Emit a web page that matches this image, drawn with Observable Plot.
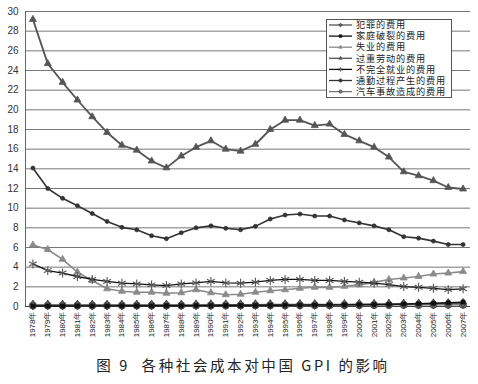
<!DOCTYPE html>
<html>
<head>
<meta charset="utf-8">
<script src="https://cdn.jsdelivr.net/npm/d3@7"></script>
<script src="https://cdn.jsdelivr.net/npm/@observablehq/plot@0.6"></script>
<style>
  html, body { margin: 0; padding: 0; background: #fff; }
  #chart { width: 478px; }
  #caption { width: 478px; height: 39px; text-align: center; font-family: "Noto Sans CJK SC", sans-serif; font-size: 14.5px; letter-spacing: 2.6px; color: #222; line-height: 39px; padding-left: 8px; box-sizing: border-box; }
</style>
</head>
<body>
<div id="chart"></div>
<div id="caption">图 9&nbsp; 各种社会成本对中国 GPI 的影响</div>
<script>
const years = [1978,1979,1980,1981,1982,1983,1984,1985,1986,1987,1988,1989,1990,1991,1992,1993,1994,1995,1996,1997,1998,1999,2000,2001,2002,2003,2004,2005,2006,2007];
const seriesNames = ["犯罪的费用","家庭破裂的费用","失业的费用","过重劳动的费用","不完全就业的费用","通勤过程产生的费用","汽车事故造成的费用"];
const crime      = [0.15,0.15,0.15,0.15,0.15,0.15,0.15,0.15,0.16,0.16,0.17,0.17,0.18,0.18,0.19,0.19,0.2,0.2,0.21,0.21,0.22,0.22,0.23,0.24,0.25,0.26,0.27,0.28,0.3,0.32];
const family     = [0.05,0.05,0.05,0.06,0.06,0.06,0.07,0.07,0.07,0.08,0.08,0.09,0.09,0.1,0.1,0.11,0.12,0.13,0.14,0.15,0.16,0.17,0.18,0.2,0.22,0.25,0.28,0.33,0.38,0.45];
const unemploy   = [6.26,5.8,4.8,3.5,2.65,1.8,1.55,1.45,1.45,1.35,1.4,1.7,1.4,1.2,1.25,1.45,1.6,1.7,1.85,1.95,1.95,2.05,2.2,2.45,2.75,2.9,3.05,3.3,3.4,3.55];
const overwork   = [29.2,24.7,22.8,21.0,19.3,17.7,16.4,15.9,14.8,14.1,15.3,16.2,16.85,16.0,15.8,16.5,18.0,18.95,18.95,18.4,18.55,17.5,16.85,16.2,15.2,13.7,13.3,12.8,12.1,11.95];
const underemp   = [4.33,3.65,3.4,3.05,2.75,2.55,2.37,2.3,2.2,2.13,2.3,2.4,2.55,2.4,2.37,2.47,2.65,2.75,2.75,2.65,2.65,2.55,2.47,2.37,2.23,2.03,1.95,1.85,1.72,1.8];
const commute    = [14.08,12.0,11.0,10.25,9.45,8.65,8.05,7.8,7.2,6.9,7.5,8.0,8.2,7.95,7.8,8.15,8.9,9.3,9.4,9.2,9.2,8.8,8.5,8.2,7.8,7.1,6.95,6.65,6.3,6.3];
const accident   = [0.1,0.1,0.1,0.1,0.1,0.1,0.1,0.1,0.1,0.1,0.1,0.1,0.11,0.11,0.11,0.12,0.12,0.12,0.13,0.13,0.13,0.14,0.14,0.15,0.15,0.16,0.16,0.17,0.17,0.18];
const yTicks = [0,2,4,6,8,10,12,14,16,18,20,22,24,26,28,30];

const values = [crime, family, unemploy, overwork, underemp, commute, accident];
const styles = [
  {stroke:"#555", symbol:"diamond", r:3, fill:"#666", dotStroke:"#333", sw:1.4},
  {stroke:"#111", symbol:"square", r:2.2, fill:"#111", dotStroke:"#111", sw:1.4},
  {stroke:"#8a8a8a", symbol:"triangle", r:2.6, fill:"#8a8a8a", dotStroke:"#8a8a8a", sw:1.6},
  {stroke:"#555", symbol:"triangle", r:2.6, fill:"#555", dotStroke:"#555", sw:1.8},
  {stroke:"#111", symbol:"asterisk", r:4.2, fill:"none", dotStroke:"#555", sw:1.3},
  {stroke:"#333", symbol:"circle", r:2, fill:"#333", dotStroke:"#333", sw:1.6},
  {stroke:"#777", symbol:"circle", r:3.6, fill:"#7a7a7a", dotStroke:"#444", sw:1.3}
];

const rows = [];
seriesNames.forEach((name, i) => years.forEach((yr, j) => rows.push({name, year: yr, value: values[i][j], idx: i})));

const marks = [
  Plot.gridY(yTicks, {stroke:"#777", strokeOpacity:1, strokeWidth:1}),
  Plot.ruleX([1977.5], {stroke:"#666", strokeWidth:1}),
  Plot.ruleY([0], {stroke:"#444", strokeWidth:1.2}),
  Plot.axisY(yTicks, {tickSize:0, tickPadding:7, fontSize:10, fill:"#333", label:null}),
  Plot.axisX(years, {tickSize:0, tickPadding:5, tickRotate:-90, fontSize:8, fill:"#222", label:null, tickFormat: d => d + "年"})
];
const drawOrder = [6, 0, 1, 2, 4, 5, 3];
drawOrder.forEach(i => {
  const s = styles[i];
  const data = rows.filter(d => d.idx === i);
  marks.push(Plot.line(data, {x:"year", y:"value", stroke:s.stroke, strokeWidth:s.sw}));
  marks.push(Plot.dot(data, {x:"year", y:"value", symbol:()=>s.symbol, r:s.r, fill:s.fill, stroke:s.dotStroke, strokeWidth: s.symbol==="asterisk"?1.1:0.8}));
});

const plot = Plot.plot({
  width: 478,
  height: 345,
  marginLeft: 25,
  marginRight: 8,
  marginTop: 11,
  marginBottom: 39,
  style: {fontFamily: "Liberation Sans, Arial, sans-serif", background:"#fff"},
  x: {type:"linear", domain:[1977.5, 2007.5], axis:null},
  y: {domain:[0,30], axis:null},
  symbol: {type:"identity"},
  marks
});
document.getElementById("chart").appendChild(plot);

// legend
const svg = d3.select(plot);
const lg = svg.append("g").attr("text-anchor","start");
lg.append("rect").attr("x",326.5).attr("y",19.5).attr("width",125).attr("height",78).attr("fill","#fff").attr("stroke","#555");
const symMap = {diamond:d3.symbolDiamond2, square:d3.symbolSquare2, triangle:d3.symbolTriangle2, asterisk:d3.symbolAsterisk, circle:d3.symbolCircle};
seriesNames.forEach((name, k) => {
  const s = styles[k];
  const y = 25 + k * 11.1;
  lg.append("line").attr("x1",329).attr("x2",352).attr("y1",y).attr("y2",y).attr("stroke",s.stroke).attr("stroke-width",1.3);
  const sym = d3.symbol(symMap[s.symbol], s.symbol === "asterisk" ? 14 : 8)();
  lg.append("path").attr("d", sym).attr("transform",`translate(340.5,${y})`)
    .attr("fill", s.fill).attr("stroke", s.dotStroke).attr("stroke-width", 0.8);
  lg.append("text").attr("x",356).attr("y",y).attr("dy","0.35em").attr("text-anchor","start")
    .attr("font-family","Noto Sans CJK SC, sans-serif").attr("font-size",9.2).attr("letter-spacing",0.8)
    .attr("fill","#222").text(name);
});
</script>
</body>
</html>
